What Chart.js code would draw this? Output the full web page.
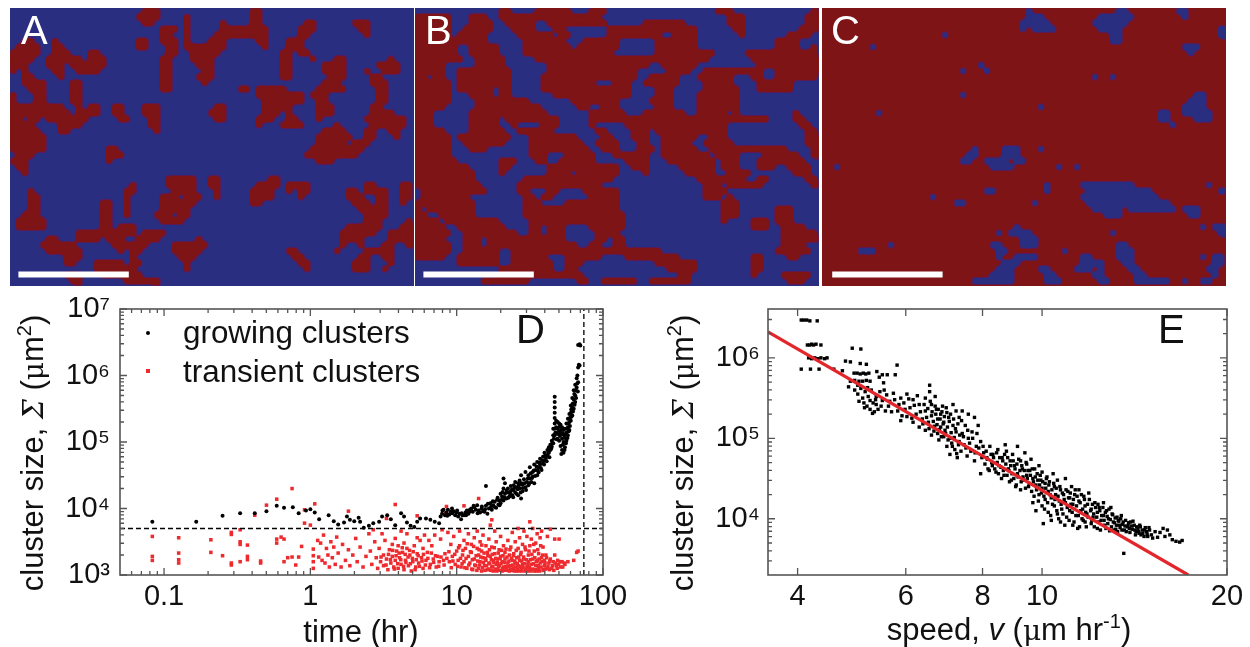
<!DOCTYPE html>
<html>
<head>
<meta charset="utf-8">
<title>Cluster maps, cluster size against time and speed</title>
<script src="https://cdn.jsdelivr.net/npm/chart.js@4/dist/chart.umd.min.js"></script>
<style>
  html, body { margin: 0; padding: 0; background: #fff; }
  canvas { position: absolute; display: block; }
  .map { position: absolute; top: 8px; width: 404px; height: 278px; overflow: hidden; }
  .map canvas { left: 0; top: 0; }
  .cells { filter: url(#smoothEdges); }
</style>
</head>
<body>
<!-- rounds the grid cells into blob outlines with a thin dark rim -->
<svg width="0" height="0" style="position:absolute">
  <filter id="smoothEdges" color-interpolation-filters="sRGB" x="0" y="0" width="100%" height="100%">
    <feGaussianBlur stdDeviation="2.2" result="soft"/>
    <feColorMatrix in="soft" type="matrix" values="1 0 0 0 0  0 1 0 0 0  0 0 1 0 0  0 0 0 14 -6.5" result="blob"/>
    <feMorphology in="blob" operator="dilate" radius="1" result="wide"/>
    <feFlood flood-color="#5a1a55"/>
    <feComposite in2="wide" operator="in" result="rim"/>
    <feMerge><feMergeNode in="rim"/><feMergeNode in="blob"/></feMerge>
  </filter>
</svg>
<div class="map" style="left:10px;background:#2a2e80">
  <canvas id="mapA" class="cells" width="404" height="278"></canvas>
  <canvas id="mapAOver" width="404" height="278"></canvas>
</div>
<div class="map" style="left:415px;background:#2a2e80">
  <canvas id="mapB" class="cells" width="404" height="278"></canvas>
  <canvas id="mapBOver" width="404" height="278"></canvas>
</div>
<div class="map" style="left:822px;background:#7e1416">
  <canvas id="mapC" class="cells" width="404" height="278"></canvas>
  <canvas id="mapCOver" width="404" height="278"></canvas>
</div>
<canvas id="timeChart" style="left:0;top:280px" width="640" height="367"></canvas>
<canvas id="speedChart" style="left:640px;top:280px" width="610" height="367"></canvas>
<script>
// Map grids: each entry is [first row, then one string per row with the occupied column runs]
const mapARuns = [
  [0,'22-24','21-24','22-23'], [5,'21-22','21-22'],
  [3,'25-27','25-26','25-27','26-27','26-27','25-26','25-26','25-26','25-26','25-26','25-26'],
  [1,'29','29 35','29 35-37','29 34-37','29 33-35','29-35','30-34','30-33','31-33','32-33','31-33','32'],
  [0,'40-41','40-41','40-41','38-42','38-42','41-42','42'],
  [2,'49-50','48-50','48-49','46-48','46-48','45-46 48-49','45-46 50','45-46','45-46','45-46'],
  [2,'57-59','58-59','59'], [8,'63','61-64','62-64'],
  [10,'59','60-61','60-62','61-62','61-62','61-62','60-61','60-63','59-65','54 60-65','52-55 59-60 63-64','51-56 59-60 64','51-55 57-59','50-58','49-57','51-53'],
  [8,'54-55','52-55','52-55','53-55','52-54','51-55','50-52','51-52','51-53','51-53','51'],
  [13,'38-39 41-45','41-48','42-48','42-45','42-44','41-43','41'],
  [16,'46','46','46-47','45-48'], [16,'34-35','33-35','34-35'],
  [16,'22-24','22-24','23-24','23-24','24'], [16,'17-18','17-18','18-19'],
  [5,'2-3','1-4','0-4','0-3','0-2','0 2','2-3','2-5','3-5','0 4-5','0 4-5','0-8 13-14','0-9 11-14','0-1 3-4 6-12','0-3 8-11','0-4 8-9','0-5','0-5','0-5','1-3','0-2','1-2','2'],
  [5,'7','7-8','7-9 13-14','6-11 13-15','6-8 10-15','7-8 11-14','8'],
  [12,'10-11','10-11','10-11','10-11','11'], [23,'16-17','16-18','16'],
  [29,'20','19-20','19','19','19','19'],
  [28,'26-30','26-30','27-30','25-27 29-31','25-30','25-29','24-26 28-29','25-28'],
  [28,'33-34','33-34','34','34'], [28,'43-44','41-44','40-43','40-43','40-41'],
  [29,'46-49','46 48-49','48'], [30,'3','3-4','3-4','3-4','2-4','1-5','1-5'],
  [32,'15-16','15-16','15-16','15-16','15-16 18-20','11-20 22-25','6-7 11-14 16-18 21-24','5-10 17-19 20-22','6-11 18 20-21','9-11 20','9-10 14-18 20-21','14-20','9-11 15-21','10-11 19-24','1 11 24'],
  [38,'31','27-32','27-31','28-30','29','29'], [40,'46-47','47-48','48-49','49'],
  [29,'59-60','56-57 59-62','56-58 61-62','57-59 61-62','58-62','59-62','59-61','56-61','55-60','55-58','55 58','54'],
  [29,'65-66','65-66','65-66','65'], [35,'66','65-67','63-67','63-67','66-67'],
  [39,'62-63','59-60 61-63','58-59 62-63','57-59 63','57-59 62']
];
const mapBRuns = [
  [0,'14-15 20-25 29-31 50-52 66-67','0-5 9-11 14-25 26-30 52-54 65-67','0-5 9-12 15-19 22-31 38-44 52-54 65-67',
   '0-5 8-12 16-19 23-24 32-37 38-46 53-54 64-67','0-5 7-11 17-22 24-25 32-40 43-46 54 62-65','0-11 18-24 28-33 40-46 60-63',
   '0-6 9-13 18-25 27-33 40-46 60-63 66','0-6 9-13 18-32 40-49 55-66','0-7 10-14 20-40 41-48 56-67','0-4 10-14 22-38 41-46 57-67',
   '0-4 7-15 22-36 42-45 48-57 60-67','0-1 3-4 7-15 21-36 39-43 47-52 56-57 60-66','0-5 7-15 21-29 33-35 38-43 48-52 57-62',
   '0-5 7-12 14-15 21-35 40-42 48-53 57-62','0-5 9-12 14-15 23-35 40-42 47-53','0-5 10-18 26-33 39-42 47-53',
   '0-4 10-20 27-28 31-33 40-42 47-53','0-2 9-21 29-34 38-44 47-51 53 63','0-2 9-13 15-23 29-58 63-64','0-2 9-13 16 21-23 29 35-51 64-65',
   '0-4 9-14 17-22 30-31 36-38 40-51 65-66','0-5 7-15 19-26 31-32 36-38 41-46 49-51 65-67','0-5 8-14 19-27 30-33 37-38 41-45 48-52 65-67',
   '0-5 9-11 19-28 31-33 37-39 41-46 49-61 66-67','0-5 19-21 25-29 33-38 41-48 50-53 58-63 66-67','0-6 14-16 20-21 24-29 35-38 42-49 51-53 57-64 67',
   '0-8 14-15 22-33 36-38 44-49 51-53 57-59 62-65','0-9 14 22-25 27-33 38 45-49 52-55 63-65','0-9 18-32 47-51 52-54 57-58 65-66',
   '0-10 17-30 48-50 52-57 66-67','1-11 17-18 22-23 28-33 48-51','1-8 18-19 21-22 29-33 48-50 52','0-9 18-20 25-33 51-53 67',
   '0 2-9 18-33 51-53 60-62','0-1 4-9 18-34 51-53 60-62','0-3 5-13 19-34 51 56-58 60-62','0-4 7-14 19-20 22-24 29-34 56-58 61-64',
   '0-5 8-16 19-20 22-24 30-33 61-66','0-4 8-10 12-24 30-31 33-34 61-67','0-5 8-10 12-26 29-30 33-34 61-64','0-5 8-13 16-40 60-65',
   '0-4 7-13 16-21 25-30 35-43 56-57 62-63','7-13 16-22 25-27 40-46 56-57','14-22 25-26 42-46 56-57','14-27 44-45 56 61-65','11-18 27-28 31-36 39-45 62-64']
];
const mapCRuns = [
  [1,'34-36','33-37','33 35-38'], [0,'49-50','46-51','45-50','46-49','48-49','48-49'], [0,'59-60','60'], [0,'34'],
  [3,'66-67','66-67','67'], [6,'60-62','61'], [6,'8'], [4,'20'], [9,'26'], [10,'23'], [10,'27'], [11,'45 48'], [14,'23'], [16,'36'], [17,'9'],
  [14,'62-63','61-63','60-63','60-64','62-64'], [17,'56-57','56-57','58'],
  [23,'25','24-25','23-24'], [23,'30-32','30-32','27-30 32-33','28-31'], [23,'36'], [26,'2'], [26,'39'], [26,'42'],
  [30,'27-28'], [29,'37','37'], [29,'43-51','44-54','43-55','44-57','45-49 51-58','47-49'], [29,'64'], [30,'66-67'], [31,'18'],
  [32,'22-23'], [32,'35'], [33,'60-62','61-62'], [36,'63'], [36,'65'], [36,'66-67','66-67','67'], [37,'29'],
  [36,'32','31-34','33-35','33-35'], [37,'48'], [40,'6-8'], [39,'11'], [39,'28-29','29-30','29'],
  [39,'49-50','49-51','49-51','50-51','51-52','52-53','52-57'], [40,'40'], [41,'43-44','43-46','42-44 46','45-46','46-47'], [43,'36-37'],
  [41,'32-35','30-32','29-31','28-31','25-31'], [44,'37-38','37-39'], [41,'65-66','65-66','64-65','65'], [41,'63'], [45,'60 63-64']
];
const scaleBarA = [[1.4, 44.4], [19.8, 44.4]];
const scaleBarB = [[1.4, 44.4], [19.8, 44.4]];
const scaleBarC = [[1.7, 44.4], [20.1, 44.4]];

// D: [log10 time (hr), log10 cluster size (um2)]
const growingClusters = [
[-1.08,3.80],[-0.78,3.80],[-0.60,3.89],[-0.48,3.93],[-0.38,3.93],[-0.30,3.96],[-0.23,4.04],[-0.18,4.01],[-0.12,4.02],[-0.08,3.93],[-0.03,3.97],[0,3.99],[0.03,3.94],[0.06,3.84],
[0.125,3.90],[0.16,3.81],[0.19,3.76],[0.23,3.79],[0.25,3.88],[0.27,3.83],[0.30,3.81],[0.33,3.86],[0.34,3.80],[0.365,3.71],[0.40,3.74],[0.43,3.78],[0.47,3.80],[0.49,3.88],[0.525,3.90],[0.55,3.84],[0.58,3.75],[0.62,3.93],[0.64,3.88],[0.66,3.79],[0.685,3.74],[0.71,3.72],[0.73,3.80],[0.75,3.85],[0.79,3.85],[0.82,3.83],[0.85,3.80],[0.88,3.78],[0.89,3.88],
[0.90,3.92],[0.91,3.98],[0.92,3.90],[0.93,3.94],[0.94,3.98],[0.95,3.91],[0.96,3.95],[0.97,3.93],[0.98,3.96],[0.99,3.90],[1.00,3.94],[1.01,3.88],[1.02,3.92],[1.03,3.84],[1.04,3.90],[1.05,3.90],[1.06,3.94],[1.07,3.97],[1.08,3.92],[1.09,3.98],[1.10,4.00],[1.11,3.95],[1.12,4.02],[1.13,3.98],[1.14,4.05],[1.15,3.97],[1.16,3.94],[1.17,4.00],[1.18,3.96],[1.19,3.95],[1.20,4.34],[1.20,4.04],[1.21,3.92],[1.22,4.00],[1.23,4.08],[1.24,3.98],[1.25,4.05],[1.26,4.10],[1.27,4.01],[1.28,4.16],[1.285,4.06],[1.29,4.12],[1.30,4.22],[1.30,4.08],[1.31,4.18],[1.32,4.30],[1.32,4.45],[1.32,4.12],[1.33,4.38],[1.33,4.22],[1.34,4.15],[1.35,4.30],[1.35,4.24],[1.36,4.18],[1.37,4.34],[1.37,4.26],[1.38,4.20],[1.39,4.35],[1.39,4.28],[1.40,4.40],[1.40,4.24],[1.41,4.32],[1.42,4.38],[1.42,4.20],[1.43,4.30],[1.43,4.42],[1.44,4.15],[1.44,4.50],[1.45,4.36],[1.45,4.26],[1.46,4.44],[1.47,4.55],[1.47,4.32],[1.48,4.40],[1.49,4.50],[1.49,4.35],[1.50,4.62],[1.50,4.45],[1.51,4.40],[1.52,4.55],[1.52,4.48],[1.53,4.66],[1.53,4.38],[1.54,4.58],[1.55,4.50],[1.55,4.70],[1.56,4.62],[1.56,4.54],[1.57,4.75],[1.57,4.66],[1.58,4.58],[1.59,4.78],[1.59,4.68],[1.60,4.72],[1.60,4.84],[1.61,4.76],[1.62,4.88],[1.62,4.80],[1.63,4.92],[1.63,4.84],[1.64,4.96],[1.64,4.88],[1.65,5.02],[1.65,4.93],[1.66,5.10],[1.66,5.20],[1.66,4.98],[1.67,5.68],[1.67,5.60],[1.67,5.52],[1.67,5.44],[1.67,5.36],[1.67,5.28],[1.67,5.20],[1.67,5.10],[1.68,5.32],[1.68,5.22],[1.68,5.14],[1.69,5.30],[1.69,5.20],[1.69,5.05],[1.70,5.28],[1.70,5.16],[1.70,5.02],[1.71,5.26],[1.71,5.12],[1.71,4.94],[1.715,4.82],[1.72,5.22],[1.72,5.05],[1.72,4.88],[1.73,5.18],[1.73,5.00],[1.73,4.84],[1.74,5.20],[1.74,5.06],[1.74,4.92],[1.75,5.28],[1.75,5.14],[1.75,5.02],[1.76,5.35],[1.76,5.22],[1.76,5.10],[1.77,5.42],[1.77,5.30],[1.77,5.18],[1.78,5.55],[1.78,5.44],[1.78,5.32],[1.79,5.66],[1.79,5.52],[1.79,5.40],[1.80,5.78],[1.80,5.64],[1.80,5.50],[1.81,5.86],[1.81,5.70],[1.81,5.60],[1.82,5.96],[1.82,5.82],[1.825,6.00],[1.83,5.90],[1.83,6.12],[1.835,6.16],[1.84,6.15],[1.83,6.46],[1.84,6.47],[1.845,6.45],
[0.903,3.97],[0.936,3.89],[0.968,4.00],[1.003,3.97],[1.034,3.93],[1.064,3.90],[1.087,3.95],[1.116,4.04],[1.143,3.93],[1.172,4.03],[1.194,3.99],[1.213,4.07],[1.236,4.03],[1.247,4.11],[1.262,4.02],[1.276,4.13],[1.293,4.05],[1.308,4.13],[1.314,4.25],[1.327,4.17],[1.341,4.27],[1.353,4.16],[1.366,4.22],[1.378,4.29],[1.386,4.17],[1.397,4.32],[1.408,4.22],[1.417,4.29],[1.426,4.35],[1.437,4.24],[1.443,4.38],[1.452,4.31],[1.463,4.38],[1.474,4.28],[1.486,4.45],[1.497,4.38],[1.506,4.53],[1.515,4.46],[1.527,4.57],[1.536,4.49],[1.546,4.63],[1.554,4.57],[1.566,4.69],[1.575,4.61],[1.586,4.72],[1.597,4.66],[1.606,4.80],[1.615,4.71],[1.626,4.84],[1.634,4.77],[1.646,4.90],[1.653,4.98],[1.664,5.05],[1.674,5.14],[1.683,5.04],[1.692,5.12],[1.703,5.23],[1.706,5.09],[1.714,5.18],[1.724,5.13],[1.726,4.96],[1.733,5.10],[1.737,4.88],[1.745,5.12],[1.747,4.98],[1.754,5.20],[1.757,5.06],[1.763,5.28],[1.766,5.16],[1.773,5.36],[1.774,5.24],[1.783,5.49],[1.784,5.38],[1.794,5.58],[1.795,5.46],[1.804,5.72],[1.806,5.56],[1.815,5.78],[1.816,5.66],[1.824,5.88],[1.828,5.76]
];
const transientClusters = [
[-1.08,3.58],[-1.08,3.28],[-1.08,3.22],[-0.90,3.56],[-0.90,3.33],[-0.90,3.23],[-0.90,3.18],[-0.68,3.53],[-0.68,3.34],[-0.60,3.29],[-0.54,3.64],[-0.54,3.61],[-0.54,3.18],[-0.54,3.15],[-0.48,3.68],[-0.48,3.50],[-0.48,3.46],[-0.48,3.20],[-0.43,3.45],[-0.43,3.28],[-0.43,3.23],[-0.38,3.90],[-0.34,3.21],[-0.34,3.18],[-0.30,4.05],[-0.23,4.14],[-0.23,3.54],[-0.23,3.48],[-0.20,3.57],[-0.18,3.54],[-0.18,3.20],[-0.155,3.26],[-0.125,4.30],[-0.125,3.27],[-0.10,3.15],[-0.08,3.27],[-0.06,3.43],[-0.04,3.98],[-0.04,3.78],[0,3.75],[0.03,4.07],[0.02,3.39],[0.02,3.29],[0.02,3.20],[0.02,3.10],[0.05,3.52],[0.057,3.27],
[0.07,3.48],[0.08,3.22],[0.09,3.60],[0.10,3.18],[0.11,3.40],[0.12,3.30],[0.13,3.12],[0.14,3.50],[0.15,3.26],[0.16,3.42],[0.17,3.16],[0.18,3.57],[0.19,3.33],[0.21,3.12],[0.22,3.46],[0.24,3.22],[0.26,3.96],[0.26,3.38],[0.27,3.14],[0.29,3.30],[0.31,3.55],[0.32,3.20],[0.34,3.42],[0.36,3.12],[0.38,3.28],[0.40,3.62],[0.41,3.36],[0.42,3.16],[0.43,3.68],[0.44,3.50],[0.45,3.26],[0.46,3.10],[0.47,3.40],[0.48,3.20],[0.49,3.62],[0.50,3.30],[0.50,3.14],[0.51,3.52],[0.52,3.85],[0.52,3.24],[0.53,3.08],[0.54,3.38],[0.55,3.18],[0.56,3.46],[0.56,3.28],[0.57,3.12],[0.58,4.06],[0.58,3.55],[0.58,3.22],[0.59,3.36],[0.60,3.10],[0.60,3.44],[0.61,3.26],[0.62,3.66],[0.62,3.16],[0.63,3.34],[0.64,3.48],[0.64,3.08],[0.65,3.22],[0.66,3.40],[0.66,3.62],[0.67,3.14],[0.68,3.30],[0.69,3.06],[0.70,3.20],[0.71,3.44],[0.72,3.12],[0.73,3.89],[0.73,3.56],[0.73,3.32],[0.74,3.18],[0.75,3.52],[0.76,3.26],[0.77,3.40],[0.77,3.10],[0.78,3.60],[0.79,3.22],[0.80,3.34],[0.81,3.52],[0.82,3.16],[0.83,3.44],[0.84,3.24],[0.85,3.60],[0.86,3.12],[0.87,3.28],[0.88,3.20],[0.89,3.54],[0.90,3.68],[0.91,3.22],[0.92,3.32],[0.925,3.93],[0.93,4.03],[0.94,3.64],[0.95,3.20],[0.96,3.46],[0.97,3.28],[0.98,3.58],[0.99,3.16],[1.00,3.36],[1.01,3.22],[1.02,3.66],[1.02,3.44],[1.03,3.12],[1.04,3.30],[1.05,4.04],[1.05,3.52],[1.05,3.20],[1.06,3.40],[1.07,3.10],[1.08,3.62],[1.08,3.28],[1.09,3.18],[1.10,3.46],[1.10,3.34],[1.11,3.08],[1.12,3.56],[1.12,3.24],[1.13,3.14],[1.14,3.40],[1.14,3.66],[1.15,4.15],[1.15,3.30],[1.15,3.10],[1.16,3.50],[1.16,3.20],[1.17,3.36],[1.17,3.06],[1.18,3.60],[1.18,3.26],[1.19,3.14],[1.20,3.44],[1.20,3.22],[1.21,3.08],[1.21,3.34],[1.22,3.54],[1.22,3.18],[1.23,3.75],[1.23,3.28],[1.24,3.83],[1.24,3.12],[1.24,3.42],[1.25,3.22],[1.25,3.06],[1.26,3.66],[1.26,3.32],[1.27,3.16],[1.27,3.50],[1.28,3.24],[1.28,3.08],[1.29,3.38],[1.29,3.14],[1.30,3.58],[1.30,3.28],[1.31,3.20],[1.31,3.06],[1.32,3.44],[1.32,3.12],[1.33,3.34],[1.33,3.24],[1.34,3.08],[1.35,3.18],[1.35,3.52],[1.36,3.30],[1.36,3.06],[1.37,3.14],[1.37,3.42],[1.38,3.22],[1.38,3.64],[1.39,3.10],[1.39,3.32],[1.40,3.18],[1.40,3.50],[1.41,3.06],[1.41,3.26],[1.42,3.70],[1.42,3.40],[1.42,3.14],[1.43,3.22],[1.43,3.56],[1.44,3.08],[1.44,3.34],[1.45,3.16],[1.45,3.46],[1.46,3.66],[1.46,3.24],[1.47,3.06],[1.47,3.38],[1.48,3.12],[1.48,3.58],[1.49,3.20],[1.49,3.30],[1.50,3.80],[1.50,3.08],[1.50,3.44],[1.51,3.16],[1.51,3.54],[1.52,3.24],[1.52,3.70],[1.53,3.06],[1.53,3.36],[1.54,3.14],[1.54,3.48],[1.55,3.22],[1.55,3.62],[1.56,3.10],[1.56,3.32],[1.57,3.18],[1.57,3.56],[1.58,3.66],[1.58,3.26],[1.59,3.08],[1.59,3.42],[1.60,3.14],[1.60,3.22],[1.61,3.30],[1.62,3.10],[1.62,3.58],[1.63,3.18],[1.64,3.69],[1.64,3.24],[1.65,3.10],[1.66,3.20],[1.67,3.30],[1.67,3.54],[1.68,3.14],[1.69,3.22],[1.70,3.54],[1.71,3.12],[1.72,3.20],[1.74,3.16],[1.76,3.20],[1.80,3.22],[1.82,3.34],[1.83,3.36],
[0.483,3.27],[0.517,3.15],[0.534,3.31],[0.547,3.23],[0.563,3.37],[0.574,3.09],[0.586,3.29],[0.597,3.17],[0.607,3.33],[0.618,3.23],[0.628,3.41],[0.637,3.13],[0.648,3.31],[0.653,3.19],[0.668,3.27],[0.678,3.37],[0.683,3.17],[0.697,3.25],[0.703,3.35],[0.716,3.08],[0.724,3.23],[0.737,3.29],[0.745,3.13],[0.763,3.21],[0.773,3.31],[0.786,3.15],[0.803,3.25],[0.815,3.11],[0.827,3.33],[0.843,3.19],[0.855,3.29],[0.877,3.13],[0.893,3.27],[0.914,3.15],[0.933,3.25],[0.947,3.35],[0.963,3.11],[0.974,3.21],[0.987,3.31],[1.006,3.13],[1.013,3.41],[1.026,3.25],[1.037,3.17],[1.043,3.37],[1.056,3.11],[1.064,3.25],[1.072,3.47],[1.083,3.15],[1.094,3.35],[1.103,3.09],[1.107,3.23],[1.116,3.43],[1.124,3.15],[1.133,3.29],[1.138,3.07],[1.144,3.21],[1.153,3.38],[1.157,3.15],[1.164,3.27],[1.171,3.45],[1.176,3.11],[1.183,3.19],[1.187,3.33],[1.193,3.07],[1.197,3.25],[1.204,3.14],[1.213,3.29],[1.217,3.09],[1.224,3.38],[1.226,3.17],[1.233,3.07],[1.237,3.23],[1.243,3.31],[1.247,3.13],[1.254,3.19],[1.257,3.41],[1.263,3.09],[1.267,3.25],[1.274,3.06],[1.277,3.19],[1.284,3.33],[1.286,3.13],[1.294,3.07],[1.297,3.25],[1.303,3.17],[1.307,3.37],[1.314,3.10],[1.317,3.29],[1.324,3.07],[1.327,3.19],[1.334,3.13],[1.337,3.39],[1.344,3.27],[1.347,3.07],[1.354,3.13],[1.357,3.21],[1.364,3.38],[1.367,3.09],[1.374,3.25],[1.377,3.07],[1.384,3.15],[1.387,3.29],[1.394,3.06],[1.397,3.21],[1.404,3.12],[1.407,3.37],[1.414,3.17],[1.417,3.09],[1.424,3.27],[1.427,3.06],[1.434,3.13],[1.437,3.31],[1.444,3.21],[1.447,3.06],[1.454,3.11],[1.457,3.27],[1.464,3.17],[1.467,3.42],[1.474,3.09],[1.477,3.23],[1.484,3.06],[1.487,3.16],[1.494,3.36],[1.497,3.11],[1.504,3.23],[1.507,3.06],[1.514,3.31],[1.517,3.09],[1.524,3.17],[1.527,3.46],[1.534,3.26],[1.537,3.08],[1.544,3.20],[1.547,3.06],[1.554,3.38],[1.557,3.14],[1.564,3.24],[1.567,3.06],[1.574,3.44],[1.577,3.12],[1.584,3.20],[1.587,3.30],[1.594,3.07],[1.604,3.18],[1.607,3.09],[1.614,3.26],[1.624,3.13],[1.634,3.08],[1.637,3.21],[1.654,3.14],[1.664,3.07],[1.674,3.18],[1.687,3.10],[1.697,3.16],[1.707,3.20],[1.725,3.12],[1.735,3.18]
];
// Dashed guides in panel D
const thresholdSize = 5000;
const endTime = 74;

// E: [log10 speed (um/hr), log10 cluster size (um2)]
const speedClusters = [
[0.608,6.47],[0.612,6.47],[0.617,6.47],[0.622,6.46],[0.634,6.46],[0.618,6.16],[0.622,6.16],[0.625,6.17],[0.628,6.16],[0.632,6.17],[0.64,6.16],[0.62,6.0],[0.625,5.99],[0.63,6.0],[0.635,5.99],[0.64,6.0],[0.646,5.99],[0.65,6.0],[0.608,5.86],[0.623,5.86],[0.637,5.86],[0.661,5.86],[0.675,5.84],[0.68,5.96],[0.688,5.95],[0.691,6.12],[0.705,6.11],[0.704,5.93],[0.714,5.92],[0.694,5.81],[0.699,5.81],[0.704,5.8],[0.709,5.81],[0.713,5.8],[0.718,5.81],[0.688,5.71],[0.695,5.72],[0.702,5.71],[0.708,5.71],[0.714,5.72],[0.72,5.71],[0.685,5.64],[0.731,5.83],[0.74,5.79],[0.748,5.79],[0.761,5.79],[0.764,5.91],[0.742,5.69],[0.735,5.76],
[0.695,5.60],[0.70,5.55],[0.70,5.66],[0.705,5.62],[0.708,5.5],[0.71,5.44],[0.712,5.58],[0.715,5.4],[0.717,5.52],[0.72,5.36],[0.72,5.47],[0.722,5.6],[0.725,5.44],[0.727,5.33],[0.73,5.52],[0.73,5.42],[0.733,5.36],[0.736,5.58],[0.74,5.47],[0.745,5.34],[0.747,5.54],[0.75,5.4],[0.755,5.33],[0.76,5.48],[0.765,5.34],[0.77,5.5],[0.77,5.22],[0.775,5.44],[0.78,5.27],[0.78,5.55],[0.785,5.38],[0.79,5.2],[0.79,5.48],[0.795,5.3],[0.80,5.14],[0.80,5.42],[0.805,5.24],[0.81,5.5],[0.81,5.34],[0.81,5.1],[0.815,5.2],[0.817,5.66],[0.817,5.58],[0.82,5.42],[0.82,5.28],[0.82,5.04],[0.825,5.15],[0.826,5.52],[0.828,5.36],[0.83,5.24],[0.83,5.06],[0.832,4.98],[0.835,5.3],[0.835,5.14],[0.838,5.4],[0.84,5.2],[0.84,5.02],[0.842,5.1],[0.845,5.32],[0.845,4.9],[0.848,5.26],[0.85,5.0],[0.85,4.8],[0.853,4.94],[0.855,5.42],[0.855,5.16],[0.858,4.86],[0.86,5.34],[0.86,5.08],[0.862,4.76],[0.865,4.96],[0.865,5.26],[0.868,4.84],[0.87,5.06],[0.87,5.34],[0.873,4.92],[0.875,5.16],[0.878,4.78],[0.88,5.3],[0.88,5.0],[0.884,4.84],[0.886,5.08],[0.89,5.26],[0.89,4.72],[0.893,4.9],[0.896,5.16],[0.90,4.96],[0.90,4.56],[0.905,4.82],[0.91,4.76],[0.912,4.62],[0.915,4.9],[0.918,4.7],[0.92,4.8],[0.925,4.58],[0.928,4.86],[0.93,4.66],[0.935,4.76],[0.938,4.54],[0.94,4.92],[0.942,4.84],[0.945,4.62],[0.948,4.72],[0.95,4.48],[0.952,4.8],[0.955,4.66],[0.958,4.42],[0.96,4.9],[0.96,4.56],[0.965,4.72],[0.965,4.36],[0.968,4.62],[0.97,4.48],[0.972,4.82],[0.975,4.54],[0.975,4.68],[0.978,4.4],[0.98,4.6],[0.982,4.74],[0.985,4.5],[0.985,4.2],[0.988,4.62],[0.99,4.42],[0.99,4.1],[0.992,4.56],[0.995,4.66],[0.995,4.3],[0.998,4.48],[1.0,4.58],[1.0,4.38],[1.0,4.16],[1.002,3.94],[1.005,4.44],[1.005,4.24],[1.008,4.52],[1.01,4.34],[1.01,4.08],[1.012,4.46],[1.015,4.26],[1.015,3.98],[1.018,4.56],[1.02,4.4],[1.02,4.16],[1.022,4.3],[1.025,4.48],[1.025,4.06],[1.028,4.22],[1.03,4.36],[1.03,3.96],[1.032,4.12],[1.035,4.3],[1.038,4.5],[1.038,4.2],[1.04,4.02],[1.042,4.34],[1.045,4.1],[1.045,4.26],[1.048,4.4],[1.05,3.92],[1.05,4.18],[1.053,4.3],[1.055,4.04],[1.058,3.88],[1.06,4.22],[1.06,4.36],[1.063,4.1],[1.065,4.0],[1.068,4.28],[1.07,4.16],[1.07,3.96],[1.073,4.06],[1.076,4.32],[1.08,4.12],[1.08,3.94],[1.083,4.02],[1.086,4.2],[1.09,4.08],[1.09,3.88],[1.093,4.14],[1.096,3.98],[1.10,4.20],[1.10,4.04],[1.102,3.92],[1.105,4.1],[1.108,4.0],[1.11,3.85],[1.112,4.14],[1.115,4.05],[1.118,3.95],[1.12,3.87],[1.122,4.02],[1.125,3.97],[1.127,3.89],[1.129,4.04],[1.131,3.93],[1.133,3.57],[1.134,3.86],[1.136,3.98],[1.139,3.9],[1.141,3.95],[1.143,3.83],[1.146,3.91],[1.148,3.97],[1.151,3.86],[1.152,3.8],[1.154,3.9],[1.157,3.84],[1.159,3.92],[1.161,3.8],[1.163,3.86],[1.166,3.78],[1.168,3.89],[1.17,3.84],[1.172,3.78],[1.175,3.86],[1.178,3.8],[1.18,3.76],[1.184,3.84],[1.188,3.77],[1.192,3.83],[1.197,3.88],[1.2,3.78],[1.204,3.86],[1.208,3.8],[1.212,3.74],[1.218,3.72],[1.224,3.71],[1.228,3.73],
[0.702,5.46],[0.711,5.38],[0.716,5.63],[0.724,5.31],[0.729,5.48],[0.738,5.40],[0.743,5.60],[0.752,5.46],[0.758,5.56],[0.767,5.42],[0.772,5.28],[0.777,5.36],[0.783,5.49],[0.788,5.25],[0.792,5.41],[0.797,5.53],[0.802,5.33],[0.806,5.18],[0.808,5.42],[0.812,5.26],[0.814,5.37],[0.816,5.12],[0.818,5.46],[0.821,5.33],[0.823,5.21],[0.824,5.09],[0.826,5.40],[0.827,5.30],[0.829,5.17],[0.831,5.36],[0.833,5.11],[0.834,5.24],[0.836,5.02],[0.837,5.33],[0.839,5.18],[0.841,5.27],[0.843,5.06],[0.844,5.38],[0.846,5.14],[0.847,4.98],[0.849,5.21],[0.851,5.30],[0.852,5.07],[0.854,4.90],[0.856,5.24],[0.857,5.01],[0.859,5.12],[0.861,4.81],[0.863,5.18],[0.864,4.92],[0.866,5.04],[0.869,5.22],[0.872,5.02],[0.876,4.88],[0.879,5.10],[0.882,4.94],[0.887,5.00],[0.891,4.82],[0.894,5.06],[0.897,4.88],[0.902,4.76],[0.904,4.90],[0.907,4.68],[0.909,4.84],[0.911,4.74],[0.914,4.60],[0.917,4.80],[0.919,4.66],[0.921,4.76],[0.923,4.62],[0.926,4.82],[0.927,4.70],[0.929,4.56],[0.931,4.76],[0.933,4.64],[0.934,4.50],[0.936,4.72],[0.937,4.60],[0.939,4.80],[0.941,4.68],[0.943,4.54],[0.944,4.76],[0.946,4.60],[0.947,4.46],[0.949,4.66],[0.951,4.56],[0.953,4.72],[0.954,4.50],[0.956,4.62],[0.957,4.40],[0.959,4.68],[0.961,4.52],[0.962,4.74],[0.964,4.60],[0.966,4.46],[0.967,4.66],[0.969,4.52],[0.971,4.60],[0.973,4.38],[0.974,4.70],[0.976,4.50],[0.977,4.60],[0.979,4.44],[0.981,4.54],[0.983,4.34],[0.984,4.62],[0.986,4.46],[0.987,4.28],[0.989,4.52],[0.991,4.36],[0.993,4.48],[0.994,4.22],[0.996,4.42],[0.997,4.54],[0.999,4.32],[1.001,4.46],[1.003,4.28],[1.004,4.12],[1.006,4.38],[1.007,4.50],[1.009,4.20],[1.011,4.42],[1.013,4.30],[1.014,4.04],[1.016,4.36],[1.017,4.18],[1.019,4.44],[1.021,4.24],[1.023,4.38],[1.024,4.10],[1.026,4.28],[1.027,4.00],[1.029,4.40],[1.031,4.18],[1.033,4.32],[1.034,4.06],[1.036,4.24],[1.037,3.92],[1.039,4.36],[1.041,4.14],[1.043,4.26],[1.044,3.98],[1.046,4.32],[1.047,4.18],[1.049,4.08],[1.051,4.24],[1.052,3.96],[1.054,4.36],[1.056,4.16],[1.057,4.28],[1.059,4.04],[1.061,3.90],[1.062,4.20],[1.064,4.30],[1.066,4.12],[1.067,3.98],[1.069,4.24],[1.071,4.08],[1.072,3.90],[1.074,4.18],[1.075,4.02],[1.077,4.24],[1.079,4.10],[1.081,3.98],[1.082,4.18],[1.084,4.06],[1.085,3.90],[1.087,4.14],[1.089,4.02],[1.091,4.18],[1.092,3.96],[1.094,4.10],[1.095,3.86],[1.097,4.04],[1.099,4.14],[1.101,3.98],[1.103,4.08],[1.104,3.88],[1.106,4.03],[1.107,3.94],[1.109,4.12],[1.111,3.99],[1.113,3.90],[1.114,4.06],[1.116,3.96],[1.117,3.86],[1.119,4.01],[1.121,3.92],[1.123,3.84],[1.124,3.98],[1.126,3.92],[1.128,4.00],[1.13,3.86],[1.132,3.96],[1.135,3.91],[1.137,3.84],[1.14,3.92],[1.142,3.88],[1.144,3.96],[1.147,3.87],[1.15,3.92],[1.153,3.84],[1.156,3.88],[1.158,3.82],[1.16,3.9],[1.164,3.82],[1.167,3.86],[1.171,3.81],[1.174,3.89]
];
const fitSpeed = [3.58, 17.3];
const fitSize = [2100000, 2000];

const timeTicks = [0.1, 1, 10, 100];
const sizeTicksD = [1000, 10000, 100000, 1000000, 10000000];
const speedTicks = [4, 6, 8, 10, 20];
const sizeTicksE = [10000, 100000, 1000000];

const TEXT_FONT = '"Liberation Sans", Arial, sans-serif';
const GREEK_FONT = '"DejaVu Serif", serif';

function toPowerPoints(list) {
  return list.map(p => ({ x: Math.pow(10, p[0]), y: Math.pow(10, p[1]) }));
}

function toCells(runs) {
  const cells = [];
  runs.forEach(blob => {
    blob.slice(1).forEach((rowText, i) => {
      const row = blob[0] + i;
      rowText.split(' ').forEach(run => {
        const ends = run.split('-').map(Number);
        const last = ends.length > 1 ? ends[1] : ends[0];
        for (let c = ends[0]; c <= last; c++) cells.push({ x: c + 0.5, y: row + 0.5 });
      });
    });
  });
  return cells;
}

// Panel letters, legend and axis titles with mixed fonts
const textLayer = {
  id: 'textLayer',
  afterDraw(chart, args, opts) {
    const ctx = chart.ctx;
    ctx.save();
    ctx.textBaseline = 'alphabetic';
    (opts.letters || []).forEach(l => {
      ctx.fillStyle = l.color;
      ctx.font = '40px ' + TEXT_FONT;
      ctx.fillText(l.text, l.x, l.y);
    });
    (opts.rich || []).forEach(r => {
      ctx.save();
      ctx.translate(r.x, r.y);
      if (r.vertical) ctx.rotate(-Math.PI / 2);
      let total = 0;
      r.parts.forEach(p => { ctx.font = p.font; total += ctx.measureText(p.text).width; });
      let pos = -total / 2;
      ctx.fillStyle = '#111';
      r.parts.forEach(p => {
        ctx.font = p.font;
        ctx.fillText(p.text, pos, p.rise ? -p.rise : 0);
        pos += ctx.measureText(p.text).width;
      });
      ctx.restore();
    });
    (opts.legend || []).forEach(l => {
      ctx.fillStyle = l.color;
      if (l.round) {
        ctx.beginPath();
        ctx.arc(l.mx, l.my, 2, 0, Math.PI * 2);
        ctx.fill();
      } else {
        ctx.fillRect(l.mx - 2, l.my - 2, 4, 4);
      }
      ctx.fillStyle = '#111';
      ctx.font = '31.4px ' + TEXT_FONT;
      ctx.fillText(l.text, l.tx, l.ty);
    });
    ctx.restore();
  }
};

// Frame and inward ticks on all four sides
const frameTicks = {
  id: 'frameTicks',
  afterDatasetsDraw(chart, args, opts) {
    const { ctx, chartArea: a, scales } = chart;
    ctx.save();
    ctx.strokeStyle = '#555';
    ctx.lineWidth = 1.3;
    ctx.beginPath();
    opts.xMajor.forEach(v => tickX(ctx, scales.x.getPixelForValue(v), a, 7));
    (opts.xMinor || []).forEach(v => tickX(ctx, scales.x.getPixelForValue(v), a, 4));
    opts.yMajor.forEach(v => tickY(ctx, scales.y.getPixelForValue(v), a, 7));
    (opts.yMinor || []).forEach(v => tickY(ctx, scales.y.getPixelForValue(v), a, 4));
    ctx.stroke();
    ctx.lineWidth = 1.6;
    ctx.strokeRect(a.left, a.top, a.right - a.left, a.bottom - a.top);
    ctx.restore();
  }
};

function tickX(ctx, x, a, len) {
  ctx.moveTo(x, a.bottom); ctx.lineTo(x, a.bottom - len);
  ctx.moveTo(x, a.top); ctx.lineTo(x, a.top + len);
}

function tickY(ctx, y, a, len) {
  ctx.moveTo(a.left, y); ctx.lineTo(a.left + len, y);
  ctx.moveTo(a.right, y); ctx.lineTo(a.right - len, y);
}

function minorTicks(min, max) {
  const out = [];
  for (let d = Math.floor(Math.log10(min)); d <= Math.ceil(Math.log10(max)); d++) {
    for (let m = 2; m <= 9; m++) {
      const v = m * Math.pow(10, d);
      if (v > min && v < max) out.push(v);
    }
  }
  return out;
}

function powerLabel(v) {
  const sup = '⁰¹²³⁴⁵⁶⁷⁸⁹';
  return '10' + sup[Math.round(Math.log10(v))];
}

const mapScales = {
  x: { type: 'linear', display: false, min: 0, max: 67.33 },
  y: { type: 'linear', display: false, min: 0, max: 46.33, reverse: true }
};

function drawMap(id, runs, cellColor, bar, letter, letterX) {
  // cells on their own canvas, the smoothing filter only touches this one
  new Chart(document.getElementById(id), {
    type: 'scatter',
    data: {
      datasets: [{ label: 'cells', data: toCells(runs), pointStyle: 'rect', pointRadius: 4.3, backgroundColor: cellColor, borderWidth: 0, clip: 0 }]
    },
    options: {
      responsive: false,
      animation: false,
      events: [],
      layout: { padding: 0, autoPadding: false },
      plugins: { legend: { display: false }, tooltip: { enabled: false } },
      scales: mapScales
    }
  });
  new Chart(document.getElementById(id + 'Over'), {
    type: 'scatter',
    data: {
      datasets: [{ label: 'scale bar', data: bar.map(p => ({ x: p[0], y: p[1] })), showLine: true, borderColor: '#fff', borderWidth: 6, pointRadius: 0 }]
    },
    options: {
      responsive: false,
      animation: false,
      events: [],
      layout: { padding: 0, autoPadding: false },
      plugins: {
        legend: { display: false },
        tooltip: { enabled: false },
        textLayer: { letters: [{ text: letter, x: letterX, y: 36, color: '#fff' }] }
      },
      scales: mapScales
    },
    plugins: [textLayer]
  });
}

function logAxis(min, max, ticks, labelFn, fixSize, pad) {
  return {
    type: 'logarithmic',
    min: min,
    max: max,
    grid: { display: false, drawTicks: false },
    border: { display: false },
    afterBuildTicks: s => { s.ticks = ticks.map(v => ({ value: v })); },
    afterFit: fixSize,
    ticks: {
      autoSkip: false,
      maxRotation: 0,
      minRotation: 0,
      padding: pad,
      color: '#111',
      font: { family: TEXT_FONT, size: 29 },
      callback: labelFn
    }
  };
}

const titleFont = '31px ' + TEXT_FONT;
const sizeTitle = [
  { text: 'cluster size, ', font: titleFont },
  { text: 'Σ', font: 'italic 28px ' + GREEK_FONT },
  { text: ' (', font: titleFont },
  { text: 'μ', font: '28px ' + GREEK_FONT },
  { text: 'm', font: titleFont },
  { text: '2', font: '20px ' + TEXT_FONT, rise: 12 },
  { text: ')', font: titleFont }
];

// Panels A, B, C
drawMap('mapA', mapARuns, '#7e1416', scaleBarA, 'A', 11);
drawMap('mapB', mapBRuns, '#7e1416', scaleBarB, 'B', 10);
drawMap('mapC', mapCRuns, '#2a2e80', scaleBarC, 'C', 9);

// Panel D
new Chart(document.getElementById('timeChart'), {
  type: 'scatter',
  data: {
    datasets: [
      { label: 'growing clusters', data: toPowerPoints(growingClusters), pointStyle: 'circle', pointRadius: 2, backgroundColor: '#000', borderWidth: 0, order: 1 },
      { label: 'transient clusters', data: toPowerPoints(transientClusters), pointStyle: 'rect', pointRadius: 2.5, backgroundColor: '#ee2a2e', borderWidth: 0, order: 2 },
      { label: 'threshold', data: [{ x: 0.05, y: thresholdSize }, { x: 100, y: thresholdSize }], showLine: true, borderColor: '#000', borderWidth: 1.3, borderDash: [5, 3], pointRadius: 0, order: 0 },
      { label: 'end', data: [{ x: endTime, y: 1000 }, { x: endTime, y: 10000000 }], showLine: true, borderColor: '#000', borderWidth: 1.3, borderDash: [5, 3], pointRadius: 0, order: 0 }
    ]
  },
  options: {
    responsive: false,
    animation: false,
    events: [],
    layout: { padding: { left: 0, top: 29, right: 37, bottom: 0 }, autoPadding: false },
    plugins: {
      legend: { display: false },
      tooltip: { enabled: false },
      frameTicks: { xMajor: timeTicks, xMinor: minorTicks(0.05, 100), yMajor: sizeTicksD, yMinor: minorTicks(1000, 10000000) },
      textLayer: {
        letters: [{ text: 'D', x: 516, y: 63, color: '#111' }],
        rich: [
          { x: 43, y: 173, vertical: true, parts: sizeTitle },
          { x: 361, y: 362, parts: [{ text: 'time (hr)', font: titleFont }] }
        ],
        legend: [
          { color: '#000', round: true, mx: 148, my: 53, text: 'growing clusters', tx: 183, ty: 63 },
          { color: '#ee2a2e', round: false, mx: 148, my: 91, text: 'transient clusters', tx: 183, ty: 102 }
        ]
      }
    },
    scales: {
      x: logAxis(0.05, 100, timeTicks, v => String(v), s => { s.height = 72; }, 5),
      y: logAxis(1000, 10000000, sizeTicksD, powerLabel, s => { s.width = 120; }, 10)
    }
  },
  plugins: [frameTicks, textLayer]
});

// Panel E
new Chart(document.getElementById('speedChart'), {
  type: 'scatter',
  data: {
    datasets: [
      { label: 'fit', data: fitSpeed.map((v, i) => ({ x: v, y: fitSize[i] })), showLine: true, borderColor: '#e3262b', borderWidth: 3.2, pointRadius: 0, order: 0 },
      { label: 'clusters', data: toPowerPoints(speedClusters), pointStyle: 'rect', pointRadius: 2.4, backgroundColor: '#000', borderWidth: 0, order: 1 }
    ]
  },
  options: {
    responsive: false,
    animation: false,
    events: [],
    layout: { padding: { left: 0, top: 29, right: 23, bottom: 0 }, autoPadding: false },
    plugins: {
      legend: { display: false },
      tooltip: { enabled: false },
      frameTicks: { xMajor: speedTicks, yMajor: sizeTicksE, yMinor: minorTicks(2000, 4000000) },
      textLayer: {
        letters: [{ text: 'E', x: 518, y: 63, color: '#111' }],
        rich: [
          { x: 53, y: 173, vertical: true, parts: sizeTitle },
          { x: 369, y: 360, parts: [
            { text: 'speed, ', font: titleFont },
            { text: 'v', font: 'italic ' + titleFont },
            { text: ' (', font: titleFont },
            { text: 'μ', font: '28px ' + GREEK_FONT },
            { text: 'm hr', font: titleFont },
            { text: '-1', font: '20px ' + TEXT_FONT, rise: 12 },
            { text: ')', font: titleFont }
          ] }
        ]
      }
    },
    scales: {
      x: logAxis(3.58, 20, speedTicks, v => String(v), s => { s.height = 72; }, 5),
      y: logAxis(2000, 4050000, sizeTicksE, powerLabel, s => { s.width = 128; }, 8)
    }
  },
  plugins: [frameTicks, textLayer]
});
</script>
</body>
</html>
